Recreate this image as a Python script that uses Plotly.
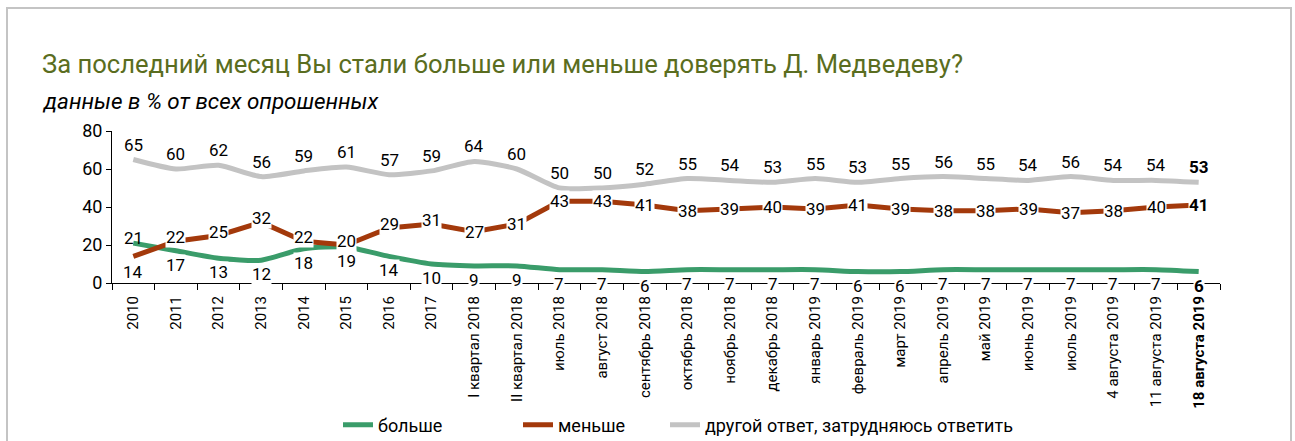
import plotly.graph_objects as go

categories = ["2010", "2011", "2012", "2013", "2014", "2015", "2016", "2017",
              "I квартал 2018", "II квартал 2018", "июль 2018", "август 2018",
              "сентябрь 2018", "октябрь 2018", "ноябрь 2018", "декабрь 2018",
              "январь 2019", "февраль 2019", "март 2019", "апрель 2019",
              "май 2019", "июнь 2019", "июль 2019", "4 августа 2019",
              "11 августа 2019", "18 августа 2019"]
more = [21, 17, 13, 12, 18, 19, 14, 10, 9, 9, 7, 7, 6, 7, 7, 7, 7, 6, 6, 7, 7, 7, 7, 7, 7, 6]
less = [14, 22, 25, 32, 22, 20, 29, 31, 27, 31, 43, 43, 41, 38, 39, 40, 39, 41, 39, 38, 38, 39, 37, 38, 40, 41]
other = [65, 60, 62, 56, 59, 61, 57, 59, 64, 60, 50, 50, 52, 55, 54, 53, 55, 53, 55, 56, 55, 54, 56, 54, 54, 53]

names = ["больше", "меньше", "другой ответ, затрудняюсь ответить"]
colors = ["#3a9c6a", "#a3390b", "#c3c3c3"]

FONT = "Roboto, 'Open Sans', 'DejaVu Sans', sans-serif"
W, H = 1295, 441
L, R, T, B = 112, 75, 131, 158
pw, ph = W - L - R, H - T - B

def px_x(x):
    return (x - L) / pw

def px_y(y):
    return (H - B - y) / ph

ticktext = categories[:-1] + ["<b>" + categories[-1] + "</b>"]

legend_ids = ["legend", "legend2", "legend3"]
legend_text_x = [378, 558, 705]

fig = go.Figure()
fig.add_trace(go.Scatter(x=categories, y=more, name=names[0], mode="lines", legend=legend_ids[0],
                         line=dict(color=colors[0], width=5, shape="spline", smoothing=0.6)))
fig.add_trace(go.Scatter(x=categories, y=less, name=names[1], mode="lines", legend=legend_ids[1],
                         line=dict(color=colors[1], width=5)))
fig.add_trace(go.Scatter(x=categories, y=other, name=names[2], mode="lines", legend=legend_ids[2],
                         line=dict(color=colors[2], width=5, shape="spline", smoothing=0.6)))

n = len(categories)
LBL = 17
for i, c in enumerate(categories):
    last = i == n - 1
    def fmt(v):
        return f"<b>{v}</b>" if last else str(v)
    # other: above
    fig.add_annotation(x=i, y=other[i], text=fmt(other[i]), showarrow=False,
                       yshift=15, font=dict(size=LBL, color="black", family=FONT))
    # less: centered on the point (with white background)
    ys = -16 if i == 0 else (4 if i < 8 else 0)
    fig.add_annotation(x=i, y=less[i], text=fmt(less[i]), showarrow=False,
                       yshift=ys, bgcolor="white", borderpad=0,
                       font=dict(size=LBL, color="black", family=FONT))
    # more: below
    ys = 5 if i == 0 else -14
    fig.add_annotation(x=i, y=more[i], text=fmt(more[i]), showarrow=False,
                       yshift=ys, bgcolor="white" if i != 0 else "rgba(0,0,0,0)", borderpad=0,
                       font=dict(size=LBL, color="black", family=FONT))

# subtitle
fig.add_annotation(xref="paper", yref="paper", x=px_x(40), y=px_y(101),
                   xanchor="left", yanchor="middle", showarrow=False,
                   text="<i>данные в % от всех опрошенных</i>",
                   font=dict(size=22.4, color="black", family=FONT))

# frame
fig.add_shape(type="rect", xref="paper", yref="paper",
              x0=px_x(7), x1=px_x(1291), y0=px_y(460), y1=px_y(8),
              line=dict(color="#c4c4c4", width=2), fillcolor="rgba(0,0,0,0)", layer="below")

legend_common = dict(orientation="h", xanchor="left", yanchor="middle", y=px_y(425),
                     font=dict(size=18, family=FONT), itemwidth=30,
                     bgcolor="rgba(0,0,0,0)")

fig.update_layout(
    width=W, height=H,
    margin=dict(l=L, r=R, t=T, b=B, autoexpand=False),
    paper_bgcolor="white", plot_bgcolor="white",
    font=dict(family=FONT, color="black"),
    title=dict(text="За последний месяц Вы стали больше или меньше доверять Д. Медведеву?",
               x=42 / W, xanchor="left", y=1 - 64 / H, yanchor="middle",
               font=dict(size=25.6, color="#5a6d20", family=FONT)),
    showlegend=True,
    legend=dict(x=px_x(legend_text_x[0] - 40), **legend_common),
    legend2=dict(x=px_x(legend_text_x[1] - 40), **legend_common),
    legend3=dict(x=px_x(legend_text_x[2] - 40), **legend_common),
    xaxis=dict(type="category", categoryorder="array", categoryarray=categories,
               tickmode="array", tickvals=categories, ticktext=ticktext,
               tickangle=-90, tickfont=dict(size=15, family=FONT),
               ticklabelstandoff=6, automargin=False,
               showgrid=False, showline=True, linecolor="black", linewidth=1,
               ticks="outside", tickson="boundaries", ticklen=6, tickcolor="black",
               range=[-0.5, n - 0.5], zeroline=False),
    yaxis=dict(range=[0, 80], dtick=20, showgrid=False, showline=True, automargin=False,
               linecolor="black", linewidth=1, ticks="outside", ticklen=5,
               tickcolor="black", tickfont=dict(size=18, family=FONT), zeroline=False),
)

fig.write_html("out.html", config={"displayModeBar": False},
               post_script="document.body.style.margin='0px';")
